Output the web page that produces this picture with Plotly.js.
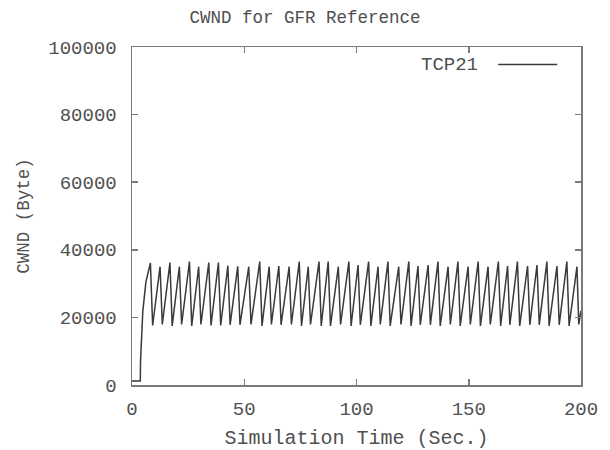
<!DOCTYPE html>
<html>
<head>
<meta charset="utf-8">
<script src="https://cdn.plot.ly/plotly-3.0.1.min.js"></script>
<style>html,body{margin:0;padding:0;background:#fff;}#chart{width:610px;height:450px;}</style>
</head>
<body>
<div id="chart"></div>
<script>
// Simulation time (sec.) of each recorded point
const time = [
  0, 3.7, 3.8, 4.8, 6.2,
  8.2, 9.2, 12.5, 13.5, 16.9, 17.9, 21.1, 22.1, 25.6, 26.6,
  29.7, 30.7, 34.2, 35.2, 38.5, 39.5, 42.7, 43.7, 47.1, 48.1,
  52.0, 53.0, 56.9, 57.9, 61.1, 62.1, 65.4, 66.4, 70.0, 71.0,
  74.5, 75.5, 78.5, 79.5, 83.3, 84.3, 87.4, 88.4, 91.9, 92.9,
  96.6, 97.6, 100.7, 101.7, 105.4, 106.4, 109.6, 110.6, 114.0, 115.0,
  118.8, 119.8, 123.3, 124.3, 127.4, 128.4, 131.9, 132.9, 136.3, 137.3,
  140.8, 141.8, 145.2, 146.2, 149.7, 150.7, 154.2, 155.2, 158.6, 159.6,
  163.2, 164.2, 167.3, 168.3, 171.7, 172.7, 176.2, 177.2, 180.4, 181.4,
  184.8, 185.8, 189.3, 190.3, 193.7, 194.7, 198.2, 199.0, 200
];
// CWND (bytes) at each point
const cwnd = [
  1200, 1200, 7000, 21700, 30500,
  36100, 17600, 35000, 17900, 36200, 17500, 35000, 17900, 36500, 17500,
  35000, 17900, 36200, 17600, 36200, 17600, 35300, 17800, 35100, 17800,
  35000, 17900, 36500, 17500, 35000, 17900, 35200, 17800, 35000, 17900,
  36500, 17500, 35000, 17900, 36500, 17500, 36500, 17500, 35000, 17900,
  36500, 17500, 35500, 17800, 36500, 17500, 35000, 17900, 36500, 17500,
  35000, 17900, 36500, 17500, 35200, 17800, 35500, 17800, 36500, 17500,
  35000, 17900, 36500, 17500, 35000, 17900, 36500, 17500, 35000, 17900,
  36500, 17500, 35200, 17800, 36500, 17500, 35200, 17800, 35500, 17800,
  36500, 17500, 35200, 17800, 36500, 17500, 35000, 17900, 22000
];
const seriesName = "TCP21";
const xTicks = [0, 50, 100, 150, 200];
const yTicks = [0, 20000, 40000, 60000, 80000, 100000];

const FONT = "Liberation Mono, DejaVu Sans Mono, monospace";
const TXT = "#505050";
const AX = "#7a7a7a";

const trace = {
  x: time, y: cwnd, type: "scatter", mode: "lines", name: seriesName,
  line: {color: "#3a3a3a", width: 1.5}, showlegend: false
};

const axisCommon = {
  showline: true, linecolor: AX, linewidth: 1.5, mirror: "ticks",
  ticks: "inside", ticklen: 6, tickwidth: 1.5, tickcolor: AX,
  showgrid: false, zeroline: false,
  tickfont: {family: FONT, size: 19, color: TXT}
};

const layout = {
  width: 610, height: 450,
  margin: {l: 132, r: 29, t: 47, b: 65},
  paper_bgcolor: "#ffffff", plot_bgcolor: "#ffffff",
  title: {text: "CWND for GFR Reference", font: {family: FONT, size: 17.5, color: TXT},
          xref: "container", x: 0.5, xanchor: "center", yref: "container", y: 1 - 17/450, yanchor: "middle"},
  xaxis: Object.assign({}, axisCommon, {
    range: [0, 200], tickvals: xTicks, ticktext: xTicks.map(String), ticklabelstandoff: 6,
    title: {text: "Simulation Time (Sec.)", font: {family: FONT, size: 20, color: TXT}, standoff: 11}
  }),
  yaxis: Object.assign({}, axisCommon, {
    range: [0, 100000], tickvals: yTicks, ticktext: yTicks.map(String), ticklabelstandoff: 10,
    title: {text: "CWND (Byte)", font: {family: FONT, size: 17.5, color: TXT}, standoff: 14}
  }),
  annotations: [{
    text: seriesName, xref: "paper", yref: "paper",
    x: (480 - 132.3) / 448.4, y: (385 - 65) / 338, xanchor: "right", yanchor: "middle",
    showarrow: false, font: {family: FONT, size: 19, color: TXT}
  }],
  shapes: [{
    type: "line", xref: "paper", yref: "paper",
    x0: (498 - 132.3) / 448.4, x1: (557 - 132.3) / 448.4,
    y0: (385 - 64.5) / 338, y1: (385 - 64.5) / 338,
    line: {color: "#3a3a3a", width: 1.5}
  }]
};

Plotly.newPlot("chart", [trace], layout, {displayModeBar: false, staticPlot: true});
</script>
</body>
</html>
